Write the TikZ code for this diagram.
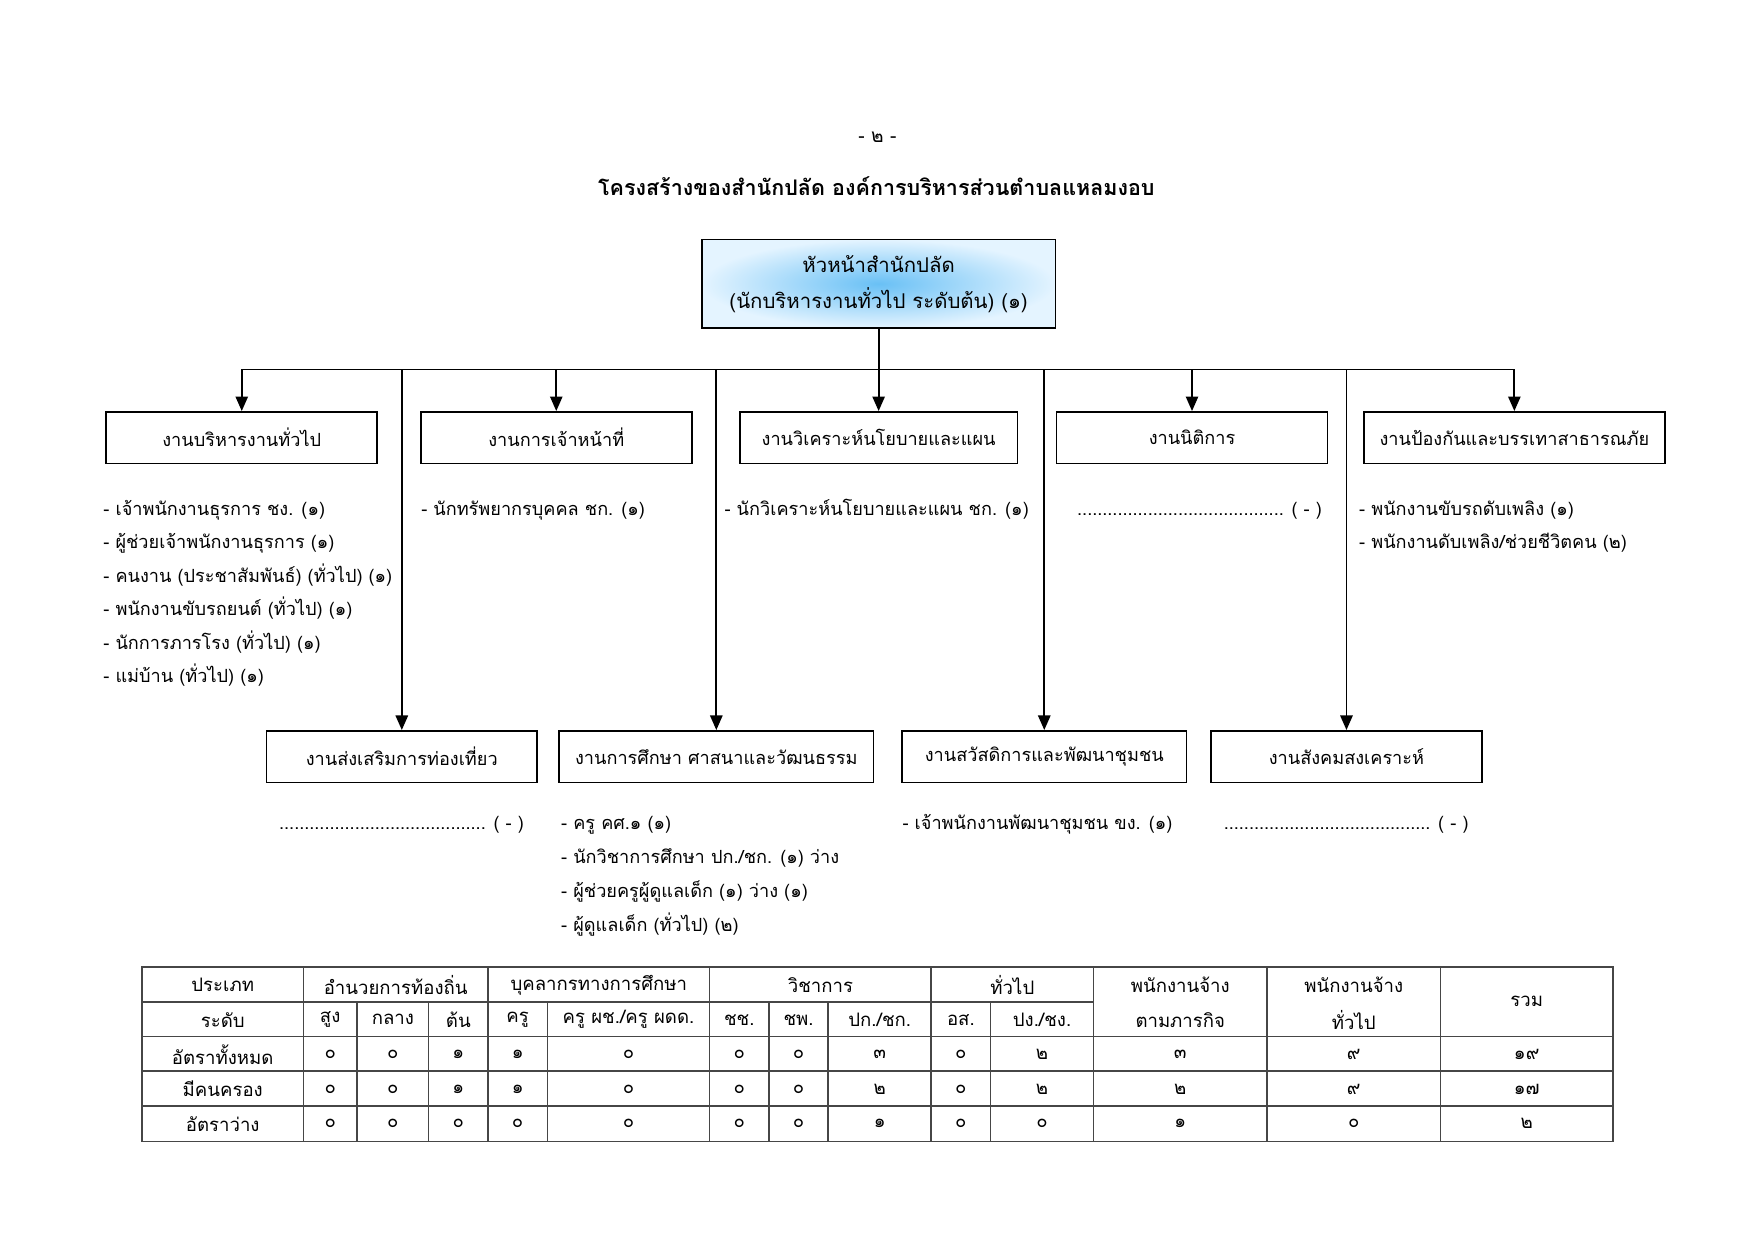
\documentclass[tikz,border=0pt]{standalone}
\usepackage{fontspec}
\setmainfont[Script=Thai]{Loma}
\usetikzlibrary{arrows.meta}
\definecolor{headC}{RGB}{105,192,245}
\definecolor{headE}{RGB}{228,244,255}
\definecolor{tabline}{RGB}{70,70,70}
\tikzset{
  unitbox/.style={draw=black, line width=0.75pt, minimum height=23pt, inner sep=0pt, font=\fontsize{8.1}{10}\selectfont},
  arr/.style={-{Triangle[width=5.5pt,length=6.5pt]}, line width=0.8pt},
  bar/.style={line width=0.6pt},
  listtxt/.style={anchor=mid west, inner sep=0pt, font=\fontsize{8.1}{10}\selectfont},
  cell/.style={inner sep=0pt, font=\fontsize{8.3}{10}\selectfont},
  tab/.style={draw=tabline, line width=0.7pt},
}
\newcommand{\dotrun}[1]{\makebox[#1]{\leaders\hbox{.}\hfill}}
\begin{document}
\begin{tikzpicture}[x=0.5pt,y=-0.5pt]
\useasboundingbox (0,0) rectangle (1568,1108.8);
% heading
\node[inner sep=0pt, font=\fontsize{8.5}{10}\selectfont] (pg) at (784,123) {- ๒ -};
\node[inner sep=0pt, font=\fontsize{9.6}{12}\selectfont\bfseries] (title) at (783,166) {โครงสร้างของสำนักปลัด องค์การบริหารส่วนตำบลแหลมงอบ};
% top box
\node[draw=black, line width=0.8pt, minimum width=158pt, minimum height=39.5pt, inner sep=0pt,
      inner color=headC, outer color=headE, align=center, font=\fontsize{9.1}{16}\selectfont] (top) at (785,253.5)
      {หัวหน้าสำนักปลัด\\(นักบริหารงานทั่วไป ระดับต้น) (๑)};
% row 1 boxes
\node[unitbox, minimum width=121pt] (b1) at (216,391) {งานบริหารงานทั่วไป};
\node[unitbox, minimum width=121pt] (b2) at (497,391) {งานการเจ้าหน้าที่};
\node[unitbox, minimum width=124pt] (b3) at (785,391) {งานวิเคราะห์นโยบายและแผน};
\node[unitbox, minimum width=121pt] (b4) at (1065,391) {งานนิติการ};
\node[unitbox, minimum width=134.5pt] (b5) at (1353,391) {งานป้องกันและบรรเทาสาธารณภัย};
% row 2 boxes
\node[unitbox, minimum width=121pt] (b6) at (359,676) {งานส่งเสริมการท่องเที่ยว};
\node[unitbox, minimum width=140.5pt] (b7) at (640,676) {งานการศึกษา ศาสนาและวัฒนธรรม};
\node[unitbox, minimum width=127pt] (b8) at (933,676) {งานสวัสดิการและพัฒนาชุมชน};
\node[unitbox, minimum width=121pt] (b9) at (1203,676) {งานสังคมสงเคราะห์};
% connectors
\coordinate (barL) at (216,330);
\coordinate (barR) at (1353,330);
\draw[bar] (barL) -- (barR);
\draw[arr] (top.south) -- (b3.north);
\foreach \n in {1,2,4,5,6,7,8,9}{
  \coordinate (j\n) at (b\n.north |- barL);
  \draw[arr] (j\n) -- (b\n.north);
}
% lists row 1
\node[listtxt] (l1a) at (92,455) {- เจ้าพนักงานธุรการ ชง. (๑)};
\node[listtxt] (l1b) at (92,485) {- ผู้ช่วยเจ้าพนักงานธุรการ (๑)};
\node[listtxt] (l1c) at (92,515) {- คนงาน (ประชาสัมพันธ์) (ทั่วไป) (๑)};
\node[listtxt] (l1d) at (92,545) {- พนักงานขับรถยนต์ (ทั่วไป) (๑)};
\node[listtxt] (l1e) at (92,575) {- นักการภารโรง (ทั่วไป) (๑)};
\node[listtxt] (l1f) at (92,605) {- แม่บ้าน (ทั่วไป) (๑)};
\node[listtxt] (l2a) at (376,455) {- นักทรัพยากรบุคคล ชก. (๑)};
\node[listtxt] (l3a) at (647,455) {- นักวิเคราะห์นโยบายและแผน ชก. (๑)};
\node[listtxt] (l4a) at (962,455) {\dotrun{93pt} ( - )};
\node[listtxt] (l5a) at (1214,455) {- พนักงานขับรถดับเพลิง (๑)};
\node[listtxt] (l5b) at (1214,485) {- พนักงานดับเพลิง/ช่วยชีวิตคน (๒)};
% lists row 2
\node[listtxt] (l6a) at (249,736) {\dotrun{93pt} ( - )};
\node[listtxt] (l7a) at (501,736) {- ครู คศ.๑ (๑)};
\node[listtxt] (l7b) at (501,766) {- นักวิชาการศึกษา ปก./ชก. (๑) ว่าง};
\node[listtxt] (l7c) at (501,797) {- ผู้ช่วยครูผู้ดูแลเด็ก (๑) ว่าง (๑)};
\node[listtxt] (l7d) at (501,827) {- ผู้ดูแลเด็ก (ทั่วไป) (๒)};
\node[listtxt] (l8a) at (806,736) {- เจ้าพนักงานพัฒนาชุมชน ขง. (๑)};
\node[listtxt] (l9a) at (1093,736) {\dotrun{93pt} ( - )};
% table
\draw[tab] (127,864) rectangle (1441,1020);
\draw[tab] (127,895) -- (977,895);
\foreach \yy in {926,957,988}{\draw[tab] (127,\yy) -- (1441,\yy);}
\foreach \xx in {271,436,634,832,977,1132,1287}{\draw[tab] (\xx,864) -- (\xx,1020);}
\foreach \xx in {319,383,489,687,740,885}{\draw[tab] (\xx,895) -- (\xx,1020);}
% header texts
\node[cell] (h1) at (199,880) {ประเภท};
\node[cell] (h2) at (353.5,880) {อำนวยการท้องถิ่น};
\node[cell] (h3) at (535,880) {บุคลากรทางการศึกษา};
\node[cell] (h4) at (733,880) {วิชาการ};
\node[cell] (h5) at (904.5,880) {ทั่วไป};
\node[cell] (h6) at (1054.5,880) {พนักงานจ้าง};
\node[cell] (h6b) at (1054.5,911) {ตามภารกิจ};
\node[cell] (h7) at (1209.5,880) {พนักงานจ้าง};
\node[cell] (h7b) at (1209.5,911) {ทั่วไป};
\node[cell] (h8) at (1364,895) {รวม};
\node[cell] (s1) at (199,911) {ระดับ};
\node[cell] (s2) at (295,911) {สูง};
\node[cell] (s3) at (351,911) {กลาง};
\node[cell] (s4) at (409.5,911) {ต้น};
\node[cell] (s5) at (462.5,911) {ครู};
\node[cell] (s6) at (561.5,911) {ครู ผช./ครู ผดด.};
\node[cell] (s7) at (660.5,911) {ชช.};
\node[cell] (s8) at (713.5,911) {ชพ.};
\node[cell] (s9) at (786,911) {ปก./ชก.};
\node[cell] (s10) at (858.5,911) {อส.};
\node[cell] (s11) at (931,911) {ปง./ชง.};
\node[cell] (r1) at (199,942) {อัตราทั้งหมด};
\node[cell] (r2) at (199,973) {มีคนครอง};
\node[cell] (r3) at (199,1004) {อัตราว่าง};
\foreach \xx/\va/\vb/\vc [count=\i] in {295/๐/๐/๐,351/๐/๐/๐,409.5/๑/๑/๐,462.5/๑/๑/๐,561.5/๐/๐/๐,660.5/๐/๐/๐,713.5/๐/๐/๐,786/๓/๒/๑,858.5/๐/๐/๐,931/๒/๒/๐,1054.5/๓/๒/๑,1209.5/๙/๙/๐,1364/๑๙/๑๗/๒}{
  \node[cell] (va\i) at (\xx,942) {\va};
  \node[cell] (vb\i) at (\xx,973) {\vb};
  \node[cell] (vc\i) at (\xx,1004) {\vc};
}
\end{tikzpicture}
\end{document}
